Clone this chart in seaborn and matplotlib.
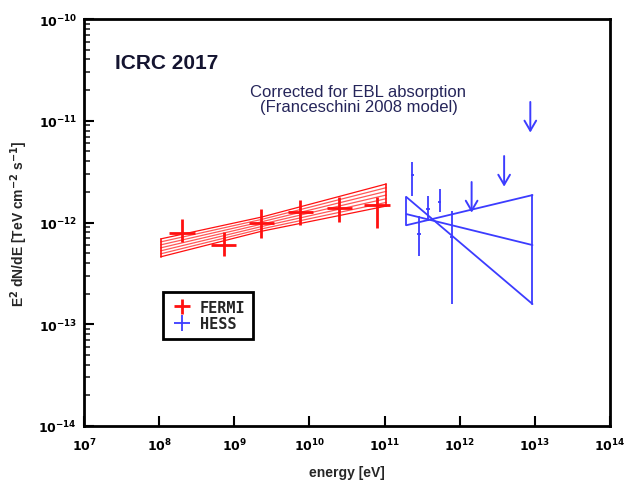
import numpy as np
import pandas as pd
import matplotlib
matplotlib.use("Agg")
import matplotlib.pyplot as plt
import seaborn as sns
from matplotlib.ticker import LogLocator, FuncFormatter, NullLocator

# ---------------- data ----------------
fermi_E = [2.0e8, 7.2e8, 2.3e9, 7.6e9, 2.5e10, 7.9e10]
fermi_F = [7.9e-13, 6.0e-13, 9.9e-13, 1.27e-12, 1.39e-12, 1.49e-12]
fermi_F_hi = [1.08e-12, 8.1e-13, 1.36e-12, 1.66e-12, 1.78e-12, 1.78e-12]
fermi_F_lo = [6.45e-13, 4.7e-13, 7.05e-13, 9.4e-13, 1.01e-12, 8.8e-13]

fermi_band_E = [1.05e8, 2.3e9, 1.05e11]
fermi_band_up = [6.9e-13, 1.13e-12, 2.39e-12]
fermi_band_lo = [4.6e-13, 8.2e-13, 1.45e-12]

hess_E = [2.35e11, 2.9e11, 3.8e11, 5.4e11, 7.8e11]
hess_F = [2.93e-12, 7.7e-13, 1.36e-12, 1.59e-12, 7.2e-13]
hess_F_hi = [3.94e-12, 1.16e-12, 1.82e-12, 2.13e-12, 1.30e-12]
hess_F_lo = [1.82e-12, 4.7e-13, 1.03e-12, 1.27e-12, 1.58e-13]

hess_ul_E = [1.44e12, 3.9e12, 8.7e12]
hess_ul_F = [2.5e-12, 4.5e-12, 1.53e-11]

hess_bow_E = [1.95e11, 9.3e12]
hess_bow_top = [1.78e-12, 1.86e-12]
hess_bow_mid = [1.21e-12, 6.0e-13]
hess_bow_bot = [9.4e-13, 1.58e-13]

xticks = [1e7, 1e8, 1e9, 1e10, 1e11, 1e12, 1e13, 1e14]
yticks = [1e-14, 1e-13, 1e-12, 1e-11, 1e-10]

# ---------------- style ----------------
sns.set_theme(style="ticks")
plt.rcParams["font.family"] = ["Liberation Sans", "DejaVu Sans"]
plt.rcParams["mathtext.default"] = "bf"

RED = "#ff1010"
BLUE = "#3c3cff"

fig = plt.figure(figsize=(6.4, 4.81), dpi=100)
ax = fig.add_axes([84 / 640, 1 - 427 / 481, 526 / 640, 407 / 481])
ax.set_xscale("log")
ax.set_yscale("log")
ax.set_xlim(1e7, 1e14)
ax.set_ylim(1e-14, 1e-10)

# ---------------- Fermi butterfly (hatched band) ----------------
bE = np.array(fermi_band_E)
lup = np.log10(fermi_band_up)
llo = np.log10(fermi_band_lo)
for f in np.linspace(0, 1, 7):
    yy = 10 ** (llo + f * (lup - llo))
    d = pd.DataFrame({"E": bE, "F": yy})
    sns.lineplot(data=d, x="E", y="F", ax=ax, color=RED, lw=0.9,
                 alpha=0.7 if 0 < f < 1 else 1.0, sort=False, estimator=None)
for i in (0, -1):
    ax.plot([bE[i], bE[i]], [fermi_band_lo[i], fermi_band_up[i]], color=RED, lw=1.2)

# Fermi points
xf = 10 ** 0.17
fE = np.array(fermi_E)
fF = np.array(fermi_F)
ferr = ax.errorbar(fE, fF,
                   xerr=[fE - fE / xf, fE * xf - fE],
                   yerr=[fF - np.array(fermi_F_lo), np.array(fermi_F_hi) - fF],
                   fmt="none", ecolor=RED, elinewidth=2.0, capsize=0, label="FERMI")

# ---------------- HESS bowtie ----------------
hb = pd.DataFrame({
    "E": [hess_bow_E[0], hess_bow_E[1], hess_bow_E[0], hess_bow_E[1],
          hess_bow_E[0], hess_bow_E[1]],
    "F": [hess_bow_top[0], hess_bow_bot[1], hess_bow_bot[0], hess_bow_top[1],
          hess_bow_mid[0], hess_bow_mid[1]],
})
for a, b in ((0, 1), (2, 3), (4, 5)):
    sns.lineplot(data=hb.iloc[[a, b]], x="E", y="F", ax=ax, color=BLUE, lw=1.3,
                 sort=False, estimator=None)
ax.plot([hess_bow_E[0]] * 2, [hess_bow_bot[0], hess_bow_top[0]], color=BLUE, lw=1.3)
ax.plot([hess_bow_E[1]] * 2, [hess_bow_bot[1], hess_bow_top[1]], color=BLUE, lw=1.3)

# HESS points
hE = np.array(hess_E)
hF = np.array(hess_F)
xh = 10 ** 0.025
herr = ax.errorbar(hE, hF,
                   xerr=[hE - hE / xh, hE * xh - hE],
                   yerr=[hF - np.array(hess_F_lo), np.array(hess_F_hi) - hF],
                   fmt="none", ecolor=BLUE, elinewidth=1.3, capsize=0, label="HESS")

# HESS upper limits
for e, f in zip(hess_ul_E, hess_ul_F):
    ax.annotate("", xy=(e, f * 0.5), xytext=(e, f),
                arrowprops=dict(arrowstyle="->,head_length=0.6,head_width=0.35",
                                color=BLUE, lw=1.4, shrinkA=0, shrinkB=0))

# ---------------- axes styling ----------------
for s in ax.spines.values():
    s.set_linewidth(2.0)
    s.set_color("black")
ax.set_xticks(xticks)
ax.xaxis.set_minor_locator(NullLocator())
ax.set_yticks(yticks)
ax.yaxis.set_minor_locator(LogLocator(base=10, subs=np.arange(2, 10), numticks=20))
fmt = FuncFormatter(lambda v, p: r"$\mathbf{10^{%d}}$" % int(round(np.log10(v))))
ax.xaxis.set_major_formatter(fmt)
ax.yaxis.set_major_formatter(fmt)
ax.tick_params(which="major", direction="in", length=7, width=1.5, labelsize=9,
               colors="black")
ax.tick_params(axis="x", which="major", pad=8)
ax.tick_params(axis="y", which="major", pad=5)
ax.tick_params(which="minor", direction="in", length=4, width=1.2)
ax.tick_params(top=False, right=False, which="both")

ax.set_xlabel("energy [eV]", fontsize=10, fontweight="bold", labelpad=8)
ax.set_ylabel(r"E$^2$ dN/dE [TeV cm$^{-2}$ s$^{-1}$]", fontsize=10, fontweight="bold",
              labelpad=6)

# ---------------- texts ----------------
ax.text(0.059, 0.894, "ICRC 2017", transform=ax.transAxes, fontsize=15,
        fontweight="bold", color="#141430", ha="left", va="center")
ax.text(0.521, 0.823, "Corrected for EBL absorption", transform=ax.transAxes,
        fontsize=12, color="#25255a", ha="center", va="center")
ax.text(0.523, 0.784, "(Franceschini 2008 model)", transform=ax.transAxes,
        fontsize=12, color="#25255a", ha="center", va="center")

# ---------------- legend ----------------
leg = ax.legend(handles=[ferr, herr], labels=["FERMI", "HESS"],
                loc="upper left", bbox_to_anchor=(0.150, 0.329), borderaxespad=0,
                frameon=True, fancybox=False, handlelength=1.5, handletextpad=0.4,
                borderpad=0.5, labelspacing=0.1,
                prop={"family": "DejaVu Sans Mono", "weight": "bold", "size": 11})
leg.get_frame().set_edgecolor("black")
leg.get_frame().set_linewidth(2.0)
leg.get_frame().set_alpha(1)

fig.savefig("out.png", dpi=100)
